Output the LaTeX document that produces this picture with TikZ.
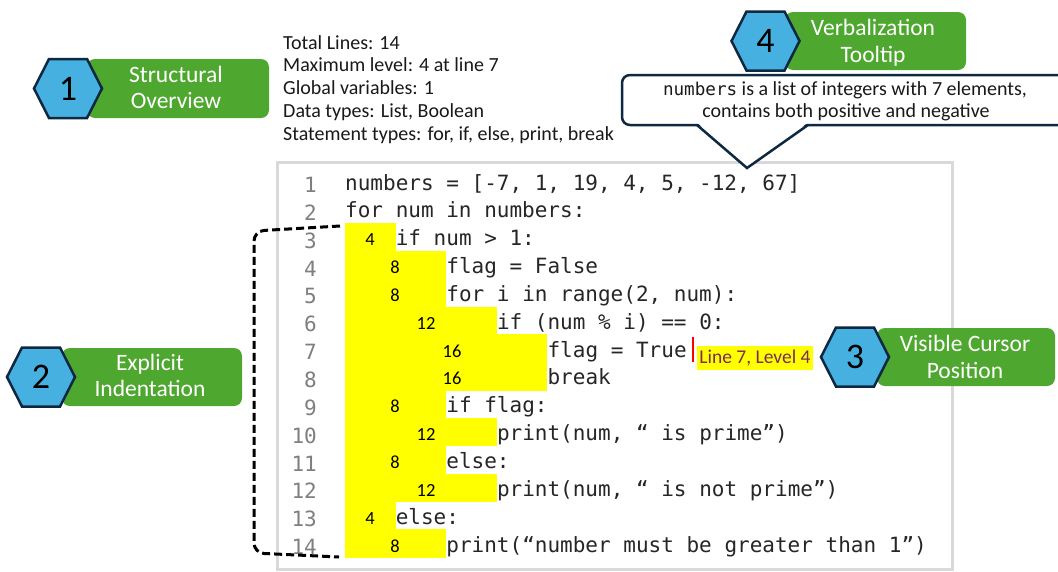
\documentclass[tikz,border=0pt]{standalone}
\usepackage{fontspec}
\setmainfont{Carlito}
\newfontfamily\codefont{DejaVu Sans Mono}
\definecolor{lblgreen}{HTML}{4EA72E}
\definecolor{hexblue}{HTML}{46B1E1}
\definecolor{hexedge}{HTML}{0E2841}
\definecolor{boxgray}{HTML}{D9D9D9}
\definecolor{lnum}{HTML}{7F7F7F}
\definecolor{codecol}{HTML}{262626}
\definecolor{hl}{HTML}{FFFF00}
\definecolor{curtext}{HTML}{7A2C5E}
\definecolor{curred}{HTML}{FF0000}
\tikzset{
  lbltext/.style={text=white, font=\fontsize{23.5}{27}\selectfont, anchor=base, inner sep=0pt},
  hexnum/.style={text=black, font=\fontsize{36}{40}\selectfont, inner sep=0pt},
  hexpath/.style={draw=hexedge, fill=hexblue, line width=2.5pt, line join=miter},
  greenbox/.style={fill=lblgreen, rounded corners=8pt},
  codeline/.style={font=\codefont\fontsize{21}{25}\selectfont, text=codecol, anchor=base west, inner sep=0pt},
  linenum/.style={font=\codefont\fontsize{21}{25}\selectfont, text=lnum, anchor=base east, inner sep=0pt},
  lvlnum/.style={font=\fontsize{18.5}{20}\selectfont, text=black, anchor=base, inner sep=0pt},
  stat/.style={font=\fontsize{20}{23}\selectfont, text=black!90, anchor=base west, inner sep=0pt},
  tiptext/.style={font=\fontsize{20}{23}\selectfont, text=black!90, anchor=base, inner sep=0pt},
}
\newcommand{\hexat}[4]{%
  \draw[hexpath] (#2-34,#3) -- (#2-19,#3-29.5) -- (#2+19,#3-29.5) -- (#2+34,#3) -- (#2+19,#3+29.5) -- (#2-19,#3+29.5) -- cycle;
  \node[hexnum] (#1) at (#2,#3) {#4};}
\begin{document}
\begin{tikzpicture}[x=1pt,y=-1pt]
\useasboundingbox (0,0) rectangle (1058,571);
\fill[white] (0,0) rectangle (1058,571);

% ---------- code box ----------
\draw[boxgray, line width=3pt] (277,162) rectangle (952,569);

% yellow indentation highlights (row n: top = 223+(n-3)*27.85)
\foreach \n/\lv in {3/1,4/2,5/2,6/3,7/4,8/4,9/2,10/3,11/2,12/3,13/1,14/2}{
  \fill[hl] (345,{223+(\n-3)*27.85}) rectangle ({345+50.6*\lv},{223+(\n-2)*27.85+0.4});
}
% level numbers
\foreach \n/\lv in {3/4,13/4}{\node[lvlnum] (lvA\n) at (370,{190+(\n-1)*27.85}) {\lv};}
\foreach \n/\lv in {4/8,5/8,9/8,11/8,14/8}{\node[lvlnum] (lvB\n) at (395,{190+(\n-1)*27.85}) {\lv};}
\foreach \n/\lv in {6/12,10/12,12/12}{\node[lvlnum] (lvC\n) at (426,{190+(\n-1)*27.85}) {\lv};}
\foreach \n/\lv in {7/16,8/16}{\node[lvlnum] (lvD\n) at (452,{190+(\n-1)*27.85}) {\lv};}

% line numbers
\foreach \n in {1,...,14}{\node[linenum] (ln\n) at (317,{192.5+(\n-1)*27.85}) {\n};}

% code lines
\node[codeline] (c1) at (345,190) {numbers = [-7, 1, 19, 4, 5, -12, 67]};
\node[codeline] (c2) at (345,217.85) {for num in numbers:};
\node[codeline] (c3) at (395.6,245.7) {if num > 1:};
\node[codeline] (c4) at (446.2,273.55) {flag = False};
\node[codeline] (c5) at (446.2,301.4) {for i in range(2, num):};
\node[codeline] (c6) at (496.8,329.25) {if (num \% i) == 0:};
\node[codeline] (c7) at (547.4,357.1) {flag = True};
\node[codeline] (c8) at (547.4,384.95) {break};
\node[codeline] (c9) at (446.2,412.8) {if flag:};
\node[codeline] (c10) at (496.8,440.65) {print(num, “ is prime”)};
\node[codeline] (c11) at (446.2,468.5) {else:};
\node[codeline] (c12) at (496.8,496.35) {print(num, “ is not prime”)};
\node[codeline] (c13) at (395.6,524.2) {else:};
\node[codeline] (c14) at (446.2,552.05) {print(“number must be greater than 1”)};

% cursor
\coordinate (curtop) at (693,337);
\coordinate (curbot) at (693,362);
\draw[curred, line width=2.5pt] (curtop) -- (curbot);
\fill[hl] (697,346) rectangle (813,370);
\node[font=\fontsize{19.5}{22}\selectfont, text=curtext, anchor=base, inner sep=0pt] (curlbl) at (755,363.5) {Line 7, Level 4};

% dashed bracket
\draw[black, line width=3pt, dash pattern=on 8pt off 4pt, rounded corners=10pt]
  (340,226) -- (254,231) -- (254,553) -- (339,557);

% ---------- stats text ----------
\node[stat] (s1) at (283,49) {Total Lines: 14};
\node[stat] (s2) at (283,71.75) {Maximum level: 4 at line 7};
\node[stat] (s3) at (283,94.5) {Global variables: 1};
\node[stat] (s4) at (283,117.25) {Data types: List, Boolean};
\node[stat] (s5) at (283,140) {Statement types: for, if, else, print, break};

% ---------- tooltip ----------
\draw[hexedge, fill=white, line width=2.5pt, rounded corners=8pt] (622,75) rectangle (1075,125);
\fill[white] (697,122.5) -- (808,122.5) -- (747,167) -- cycle;
\draw[hexedge, line width=2.5pt, line join=miter] (697,125) -- (747,168) -- (808,125);
\node[tiptext] (t1) at (845,95) {{\codefont\fontsize{17.6}{20}\selectfont numbers} is a list of integers with 7 elements,};
\node[tiptext] (t2) at (846,117) {contains both positive and negative};

% ---------- labels ----------
\fill[greenbox] (87,59) rectangle (269,118);
\hexat{h1}{68}{88.5}{1}
\node[lbltext] (l1a) at (176,82) {Structural};
\node[lbltext] (l1b) at (176,108) {Overview};

\fill[greenbox] (62,348) rectangle (242,406);
\hexat{h2}{41}{377}{2}
\node[lbltext] (l2a) at (150,370) {Explicit};
\node[lbltext] (l2b) at (150,396.5) {Indentation};

\fill[greenbox] (877,328) rectangle (1055,386);
\hexat{h3}{855}{357}{3}
\node[lbltext] (l3a) at (965,351.7) {Visible Cursor};
\node[lbltext] (l3b) at (965,378) {Position};

\fill[greenbox] (785,12) rectangle (966,70);
\hexat{h4}{765.5}{41}{4}
\node[lbltext] (l4a) at (873,35) {Verbalization};
\node[lbltext] (l4b) at (873,62) {Tooltip};
\end{tikzpicture}
\end{document}
